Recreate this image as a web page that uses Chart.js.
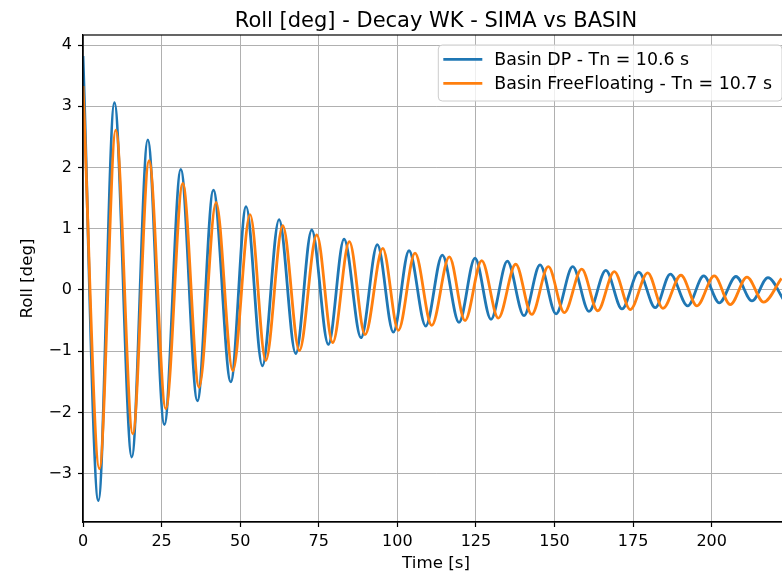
<!DOCTYPE html>
<html><head><meta charset="utf-8">
<script src="https://cdn.jsdelivr.net/npm/chart.js@4.4.1/dist/chart.umd.min.js"></script>
<style>html,body{margin:0;padding:0;background:#fff;overflow:hidden;}#wrap{width:782px;height:577px;overflow:hidden;}</style>
</head><body><div id="wrap"><canvas id="c" width="800" height="577" style="width:800px;height:577px"></canvas></div>
<script>
const chartTitle = 'Roll [deg] - Decay WK - SIMA vs BASIN';
const xLabel = 'Time [s]';
const yLabel = 'Roll [deg]';
const seriesNames = ['Basin DP - Tn = 10.6 s', 'Basin FreeFloating - Tn = 10.7 s'];
const xTicks = [0, 25, 50, 75, 100, 125, 150, 175, 200];
const yTicks = [-3, -2, -1, 0, 1, 2, 3, 4];

// Basin DP: extrema (time, roll)
const dpTime = [0, 4.90, 9.99, 15.52, 20.61, 25.89, 31.11, 36.39, 41.48, 47.01, 51.88, 57.06, 62.37, 67.68, 72.77, 78.05, 83.05, 88.45, 93.64, 98.73, 103.72, 109.03, 114.31, 119.62, 124.71, 129.80, 134.99, 140.30, 145.39, 150.48, 155.79, 160.97, 166.33, 171.47, 176.78, 182.06, 186.83, 192.37, 197.46, 202.42, 207.73, 212.82, 217.91, 223.0];
const dpRoll = [3.82, -3.44, 3.06, -2.73, 2.45, -2.20, 1.97, -1.81, 1.63, -1.50, 1.36, -1.24, 1.15, -1.04, 0.98, -0.89, 0.83, -0.78, 0.74, -0.69, 0.64, -0.59, 0.57, -0.53, 0.52, -0.48, 0.47, -0.42, 0.41, -0.39, 0.38, -0.35, 0.32, -0.31, 0.29, -0.29, 0.26, -0.26, 0.23, -0.21, 0.22, -0.18, 0.20, -0.17];

// Basin FreeFloating
const ffTime = [0, 5.22, 10.43, 15.84, 21.02, 26.34, 31.74, 36.93, 42.33, 47.65, 53.15, 58.14, 63.55, 68.83, 74.36, 79.45, 84.73, 89.73, 95.36, 100.32, 105.63, 110.94, 116.54, 121.53, 126.84, 132.12, 137.66, 142.75, 148.03, 153.12, 158.65, 163.74, 169.02, 174.11, 179.64, 184.51, 190.24, 195.32, 200.83, 205.92, 211.23, 216.54, 222.2];
const ffRoll = [3.33, -2.92, 2.61, -2.35, 2.11, -1.94, 1.74, -1.59, 1.43, -1.32, 1.23, -1.15, 1.05, -0.99, 0.90, -0.86, 0.79, -0.73, 0.68, -0.66, 0.60, -0.58, 0.54, -0.50, 0.48, -0.46, 0.42, -0.40, 0.38, -0.37, 0.34, -0.34, 0.30, -0.32, 0.28, -0.30, 0.24, -0.26, 0.23, -0.24, 0.21, -0.20, 0.19];

const colors = ['#1f77b4', '#ff7f0e'];
const FONT = "'DejaVu Sans', sans-serif";

Chart.defaults.font.family = FONT;
Chart.defaults.color = '#000';

const toPts = (t, v) => t.map((x, i) => ({x: x, y: v[i]}));

const overlay = {
  id: 'overlay',
  afterDraw(chart) {
    const ctx = chart.ctx, a = chart.chartArea;
    ctx.save();
    // spines
    ctx.strokeStyle = '#000';
    ctx.lineWidth = 1.2;
    ctx.strokeRect(a.left, a.top, a.right - a.left, a.bottom - a.top);
    // title
    ctx.font = '21px ' + FONT;
    ctx.fillStyle = '#000';
    ctx.textAlign = 'center';
    ctx.textBaseline = 'alphabetic';
    ctx.fillText(chartTitle, (a.left + a.right) / 2, 27);
    // legend
    ctx.font = '17.4px ' + FONT;
    let tw = 0;
    seriesNames.forEach(s => { tw = Math.max(tw, ctx.measureText(s).width); });
    const bw = 5 + 39 + 12 + tw + 10;
    const bh = 56;
    const bx = a.right - 7 - bw;
    const by = a.top + 10;
    const r = 4;
    ctx.beginPath();
    ctx.moveTo(bx + r, by);
    ctx.lineTo(bx + bw - r, by);
    ctx.quadraticCurveTo(bx + bw, by, bx + bw, by + r);
    ctx.lineTo(bx + bw, by + bh - r);
    ctx.quadraticCurveTo(bx + bw, by + bh, bx + bw - r, by + bh);
    ctx.lineTo(bx + r, by + bh);
    ctx.quadraticCurveTo(bx, by + bh, bx, by + bh - r);
    ctx.lineTo(bx, by + r);
    ctx.quadraticCurveTo(bx, by, bx + r, by);
    ctx.closePath();
    ctx.fillStyle = 'rgba(255,255,255,0.8)';
    ctx.fill();
    ctx.strokeStyle = '#cccccc';
    ctx.lineWidth = 1;
    ctx.stroke();
    ctx.textAlign = 'left';
    ctx.textBaseline = 'middle';
    seriesNames.forEach((s, i) => {
      const yy = by + 14.3 + i * 24;
      ctx.strokeStyle = colors[i];
      ctx.lineWidth = 2.8;
      ctx.beginPath();
      ctx.moveTo(bx + 5, yy);
      ctx.lineTo(bx + 44, yy);
      ctx.stroke();
      ctx.fillStyle = '#000';
      ctx.fillText(s, bx + 56, yy + 1);
    });
    ctx.restore();
  }
};

new Chart(document.getElementById('c'), {
  type: 'line',
  data: {
    datasets: [
      {label: seriesNames[0], data: toPts(dpTime, dpRoll), borderColor: colors[0], borderWidth: 2.8, pointRadius: 0, cubicInterpolationMode: 'monotone', fill: false, order: 1},
      {label: seriesNames[1], data: toPts(ffTime, ffRoll), borderColor: colors[1], borderWidth: 2.8, pointRadius: 0, cubicInterpolationMode: 'monotone', fill: false, order: 0}
    ]
  },
  options: {
    responsive: false,
    animation: false,
    devicePixelRatio: 1,
    layout: {padding: {top: 35, right: 11, left: 0, bottom: 0}},
    plugins: {legend: {display: false}, title: {display: false}, tooltip: {enabled: false}},
    scales: {
      x: {
        type: 'linear', min: 0, max: 224.6,
        afterBuildTicks: s => { s.ticks = xTicks.map(v => ({value: v})); },
        afterFit: s => { s.height = 55; },
        grid: {color: '#b0b0b0', lineWidth: 1, tickColor: '#000', tickLength: 5, tickWidth: 1.2},
        border: {color: '#000', width: 1.2},
        ticks: {font: {size: 16}, color: '#000', padding: 5, maxRotation: 0, autoSkip: false},
        title: {display: true, text: xLabel, font: {size: 16.7}, color: '#000', padding: {top: 0, bottom: 3}}
      },
      y: {
        type: 'linear', min: -3.79, max: 4.164,
        afterBuildTicks: s => { s.ticks = yTicks.map(v => ({value: v})); },
        afterFit: s => { s.width = 83; },
        grid: {color: '#b0b0b0', lineWidth: 1, tickColor: '#000', tickLength: 5, tickWidth: 1.2},
        border: {color: '#000', width: 1.2},
        ticks: {font: {size: 16}, color: '#000', padding: 6, autoSkip: false,
          callback: v => (v < 0 ? '\u2212' + Math.abs(v) : String(v))},
        title: {display: true, text: yLabel, font: {size: 16.7}, color: '#000', padding: {top: 18, bottom: 0}}
      }
    }
  },
  plugins: [overlay]
});
</script></body></html>
